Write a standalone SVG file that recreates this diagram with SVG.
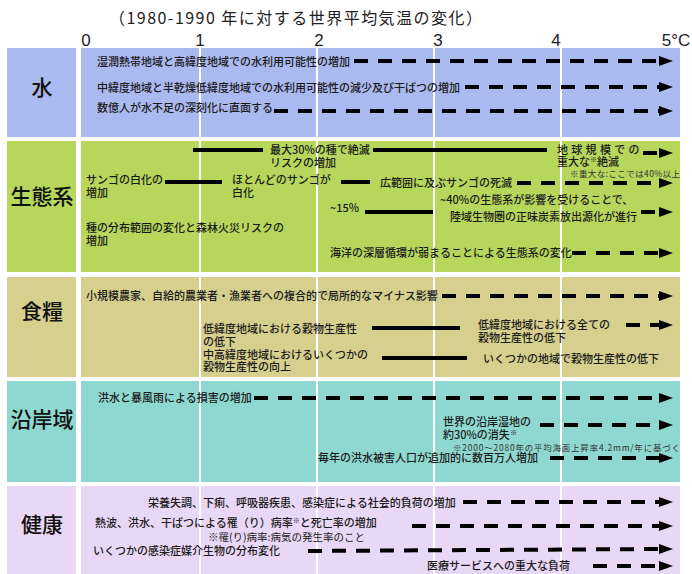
<svg xmlns="http://www.w3.org/2000/svg" width="692" height="574" viewBox="0 0 692 574">
<style>
.t{font-family:"Noto Sans CJK JP","Noto Sans CJK SC",sans-serif;font-size:11px;font-weight:500;fill:#1a1a1a}
.s{font-family:"Noto Sans CJK JP","Noto Sans CJK SC",sans-serif;font-size:8.5px;fill:#333}
.lab{font-family:"Noto Sans CJK JP","Noto Sans CJK SC",sans-serif;font-size:21px;font-weight:500;fill:#111;text-anchor:middle}
.ax{font-family:"Liberation Sans",Arial,sans-serif;font-size:17px;fill:#222;text-anchor:middle}
.ttl{font-family:"Noto Sans CJK JP","Noto Sans CJK SC",sans-serif;font-size:16px;fill:#222}
.d{stroke:#000;stroke-width:4;stroke-dasharray:14 10;fill:none;marker-end:url(#ah)}
.l{stroke:#000;stroke-width:4;fill:none}
.g{stroke:#fff;stroke-width:2}
.sup{font-size:7px}
</style>
<defs>
<marker id="ah" markerUnits="userSpaceOnUse" markerWidth="16" markerHeight="12" refX="0" refY="6" orient="auto">
<path d="M0,1 L14,6 L0,11 z" fill="#000"/>
</marker>
</defs>
<rect width="692" height="574" fill="#fff"/>
<g id="header">
<text class="ttl" x="109" y="24" textLength="373">（1980-1990 年に対する世界平均気温の変化）</text>
<text class="ax" x="86" y="46">0</text>
<text class="ax" x="200" y="46">1</text>
<text class="ax" x="319" y="46">2</text>
<text class="ax" x="438" y="46">3</text>
<text class="ax" x="556" y="46">4</text>
<text class="ax" x="676" y="46">5°C</text>
</g>
<g id="row-water">
<rect x="7" y="48" width="69" height="89" fill="#aab9ef"/>
<rect x="81" y="48" width="599" height="89" fill="#aab9ef"/>
<text class="lab" x="42" y="95">水</text>
</g>
<g id="row-eco">
<rect x="7" y="141" width="69" height="131" fill="#b6d65c"/>
<rect x="81" y="141" width="599" height="131" fill="#b6d65c"/>
<text class="lab" x="42" y="204">生態系</text>
</g>
<g id="row-food">
<rect x="7" y="277" width="69" height="100" fill="#d6cf8d"/>
<rect x="81" y="277" width="599" height="100" fill="#d6cf8d"/>
<text class="lab" x="42" y="319">食糧</text>
</g>
<g id="row-coast">
<rect x="7" y="381" width="69" height="101" fill="#8fd8d2"/>
<rect x="81" y="381" width="599" height="101" fill="#8fd8d2"/>
<text class="lab" x="42" y="427">沿岸域</text>
</g>
<g id="row-health">
<rect x="7" y="486" width="69" height="88" fill="#e8d7f5"/>
<rect x="81" y="486" width="599" height="88" fill="#e8d7f5"/>
<text class="lab" x="42" y="532">健康</text>
</g>
<g id="gridlines">
<line class="g" x1="200" y1="46" x2="200" y2="574"/>
<line class="g" x1="317" y1="46" x2="317" y2="574"/>
<line class="g" x1="434" y1="46" x2="434" y2="574"/>
<line class="g" x1="561" y1="46" x2="561" y2="574"/>
</g>
<g id="water-items">
<g id="w1"><text class="t" x="97" y="66">湿潤熱帯地域と高緯度地域での水利用可能性の増加</text></g>
<g id="w2"><text class="t" x="97" y="92">中緯度地域と半乾燥低緯度地域での水利用可能性の減少及び干ばつの増加</text></g>
<g id="w3"><text class="t" x="97" y="112">数億人が水不足の深刻化に直面する</text></g>
</g>
<g id="eco-items">
<g id="e1"><text class="t" x="270" y="154">最大30%の種で絶滅<tspan x="270" y="167">リスクの増加</tspan></text></g>
<g id="e2"><text class="t" x="557" y="154"><tspan letter-spacing="3.3">地球規模での</tspan><tspan x="557" y="166">重大な</tspan><tspan class="sup" dy="-4">※</tspan><tspan dy="4">絶滅</tspan></text></g>
<g id="e2n"><text class="s" x="570" y="177" textLength="110">※重大な:ここでは40%以上</text></g>
<g id="e3"><text class="t" x="86" y="184">サンゴの白化の<tspan x="86" y="197">増加</tspan></text></g>
<g id="e4"><text class="t" x="232" y="184">ほとんどのサンゴが<tspan x="232" y="197">白化</tspan></text></g>
<g id="e5"><text class="t" x="380" y="187">広範囲に及ぶサンゴの死滅</text></g>
<g id="e6"><text class="t" x="330" y="212">~15%</text></g>
<g id="e7"><text class="t" x="440" y="204">~40%の生態系が影響を受けることで、<tspan x="450" y="221">陸域生物圏の正味炭素放出源化が進行</tspan></text></g>
<g id="e8"><text class="t" x="86" y="232">種の分布範囲の変化と森林火災リスクの<tspan x="86" y="245">増加</tspan></text></g>
<g id="e9"><text class="t" x="330" y="257">海洋の深層循環が弱まることによる生態系の変化</text></g>
</g>
<g id="food-items">
<g id="f1"><text class="t" x="86" y="300">小規模農家、自給的農業者・漁業者への複合的で局所的なマイナス影響</text></g>
<g id="f2"><text class="t" x="203" y="333">低緯度地域における穀物生産性<tspan x="203" y="346">の低下</tspan></text></g>
<g id="f3"><text class="t" x="478" y="329">低緯度地域における全ての<tspan x="478" y="342">穀物生産性の低下</tspan></text></g>
<g id="f4"><text class="t" x="203" y="359">中高緯度地域におけるいくつかの<tspan x="203" y="371">穀物生産性の向上</tspan></text></g>
<g id="f5"><text class="t" x="483" y="363">いくつかの地域で穀物生産性の低下</text></g>
</g>
<g id="coast-items">
<g id="c1"><text class="t" x="98" y="402">洪水と暴風雨による損害の増加</text></g>
<g id="c2"><text class="t" x="443" y="426">世界の沿岸湿地の<tspan x="443" y="439">約30%の消失</tspan><tspan class="sup" dy="-4">※</tspan></text></g>
<g id="c2n"><text class="s" x="453" y="451" textLength="227">※2000～2080年の平均海面上昇率4.2mm/年に基づく</text></g>
<g id="c3"><text class="t" x="318" y="462">毎年の洪水被害人口が追加的に数百万人増加</text></g>
</g>
<g id="health-items">
<g id="h1"><text class="t" x="148" y="507">栄養失調、下痢、呼吸器疾患、感染症による社会的負荷の増加</text></g>
<g id="h2"><text class="t" x="95" y="527">熱波、洪水、干ばつによる罹（り）病率<tspan class="sup" dy="-4">※</tspan><tspan dy="4">と死亡率の増加</tspan></text></g>
<g id="h2n"><text class="t" x="208" y="541" style="font-size:10.5px;font-weight:400">※罹(り)病率:病気の発生率のこと</text></g>
<g id="h3"><text class="t" x="93" y="555">いくつかの感染症媒介生物の分布変化</text></g>
<g id="h4"><text class="t" x="427" y="570">医療サービスへの重大な負荷</text></g>
</g>
<g id="connectors">
<line class="d" x1="354" y1="61" x2="659" y2="61"/>
<line class="d" x1="465" y1="87" x2="659" y2="87"/>
<line class="d" x1="274" y1="111" x2="659" y2="111"/>
<line class="l" x1="193" y1="150" x2="263" y2="150"/>
<line class="l" x1="373" y1="150" x2="547" y2="150"/>
<line class="d" x1="643" y1="153" x2="659" y2="153"/>
<line class="l" x1="165" y1="182" x2="222" y2="182"/>
<line class="l" x1="341" y1="182" x2="370" y2="182"/>
<line class="d" x1="517" y1="183" x2="659" y2="183"/>
<line class="l" x1="365" y1="212" x2="433" y2="212"/>
<line class="d" x1="641" y1="212" x2="659" y2="212"/>
<line class="d" x1="572" y1="253" x2="659" y2="253"/>
<line class="d" x1="442" y1="296" x2="659" y2="296"/>
<line class="l" x1="372" y1="328" x2="460" y2="328"/>
<line class="d" x1="626" y1="325" x2="659" y2="325"/>
<line class="l" x1="382" y1="358" x2="467" y2="358"/>
<line class="d" x1="254" y1="398" x2="659" y2="398"/>
<line class="d" x1="540" y1="425" x2="659" y2="425"/>
<line class="d" x1="550" y1="458" x2="659" y2="458"/>
<line class="d" x1="463" y1="502" x2="659" y2="502"/>
<line class="d" x1="412" y1="526" x2="659" y2="526"/>
<line class="d" x1="308" y1="551" x2="659" y2="549"/>
<line class="d" x1="593" y1="566" x2="659" y2="566"/>
</g>
</svg>
